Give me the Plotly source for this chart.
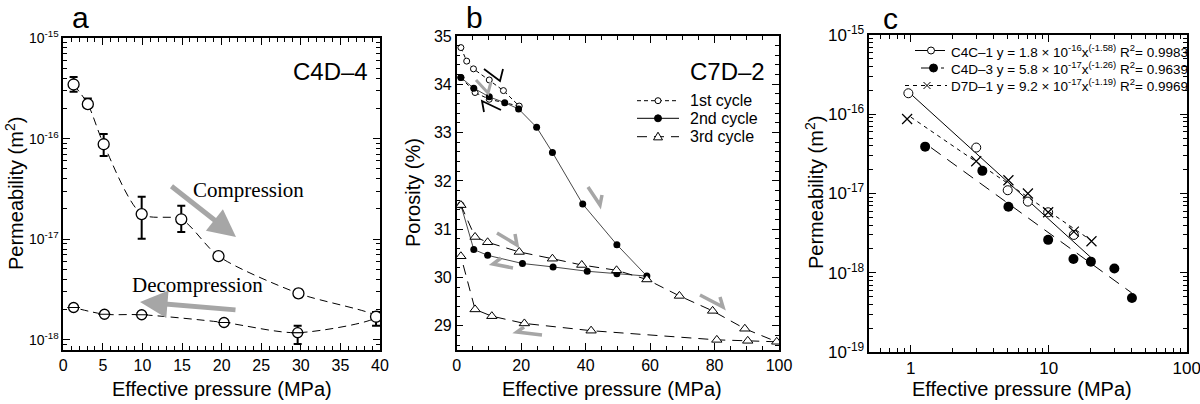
import plotly.graph_objects as go

# ---------------- DATA ----------------
# Panel a (C4D-4): permeability vs effective pressure
comp_p = [1.3, 3.1, 5.1, 9.9, 14.9, 19.6, 29.7, 39.5]
comp_k = [3.45e-16, 2.2e-16, 8.8e-17, 1.78e-17, 1.58e-17, 6.8e-18, 2.9e-18, 1.7e-18]
comp_k_hi = [4.1e-16, 2.5e-16, 1.11e-16, 2.64e-17, 2.16e-17, 7.0e-18, 3.15e-18, 1.9e-18]
comp_k_lo = [2.92e-16, 2.02e-16, 6.73e-17, 1.01e-17, 1.18e-17, 6.6e-18, 2.65e-18, 1.38e-18]
decomp_p = [39.5, 29.6, 20.3, 9.9, 5.2, 1.3]
decomp_k = [1.7e-18, 1.18e-18, 1.49e-18, 1.78e-18, 1.8e-18, 2.1e-18]
decomp_k_hi = [1.9e-18, 1.38e-18, 1.52e-18, 1.81e-18, 1.83e-18, 2.14e-18]
decomp_k_lo = [1.38e-18, 0.91e-18, 1.46e-18, 1.75e-18, 1.77e-18, 2.06e-18]

# Panel b (C7D-2): porosity vs effective pressure, three cycles
first_p = [1.3, 3.1, 5.2, 10.1, 14.5, 19.4, 10.1, 5.7, 1.3]
first_phi = [34.76, 34.48, 34.32, 34.09, 33.87, 33.55, 33.69, 33.83, 34.14]
second_p = [1.3, 5.3, 10.1, 14.9, 19.2, 24.8, 29.7, 39.1, 49.7, 59.0,
            49.7, 40.5, 29.9, 20.4, 9.6, 5.3, 1.3]
second_phi = [34.14, 33.92, 33.74, 33.62, 33.49, 33.11, 32.59, 31.52, 30.68, 30.03,
              30.08, 30.13, 30.22, 30.29, 30.46, 30.58, 31.50]
third_p = [1.3, 5.7, 9.6, 19.4, 29.7, 38.8, 49.6, 59.0, 69.1, 79.4, 89.4, 99.3,
           90.3, 80.7, 41.7, 21.0, 10.9, 5.7, 1.3]
third_phi = [31.50, 30.84, 30.73, 30.53, 30.39, 30.26, 30.15, 29.96, 29.62, 29.31, 28.94, 28.67,
             28.69, 28.71, 28.90, 29.05, 29.20, 29.34, 30.44]
cycle_names = ["1st cycle", "2nd cycle", "3rd cycle"]

# Panel c: permeability vs effective pressure, power-law fits
c4c1_p = [0.96, 2.98, 5.04, 7.06, 9.9, 15.2]
c4c1_k = [1.84e-16, 3.8e-17, 1.1e-17, 7.9e-18, 5.8e-18, 3.0e-18]
c4d3_p = [1.27, 3.3, 5.1, 9.9, 15.1, 20.2, 29.9, 40.1]
c4d3_k = [3.9e-17, 1.93e-17, 6.8e-18, 2.6e-18, 1.49e-18, 1.38e-18, 1.13e-18, 4.8e-19]
d7d1_p = [0.94, 2.98, 5.1, 7.06, 9.9, 15.2, 20.4]
d7d1_k = [8.7e-17, 2.55e-17, 1.47e-17, 1.0e-17, 5.8e-18, 3.3e-18, 2.5e-18]
sample_names = ["C4C\u20131", "C4D\u20133", "D7D\u20131"]
fit_coef = [1.8e-16, 5.8e-17, 9.2e-17]
fit_coef_txt = ["1.8 \u00d7 10<sup>-16</sup>", "5.8 \u00d7 10<sup>-17</sup>", "9.2 \u00d7 10<sup>-17</sup>"]
fit_exp = [-1.58, -1.26, -1.19]
fit_r2 = ["0.9983", "0.9639", "0.9969"]
fit_range = [(0.96, 20.4), (1.4, 40.0), (1.0, 20.4)]

# ---------------- STYLE / LAYOUT ----------------
W, H = 1200, 404
SANS = "Liberation Sans, Arial, sans-serif"
SERIF = "Liberation Serif, Times New Roman, serif"
GRAY = "#a6a6a6"


def px(x):
    return x / W


def py(y):
    return 1 - y / H


fig = go.Figure()


def axis_common(**kw):
    d = dict(showline=True, linecolor="black", linewidth=1.5, mirror="allticks",
             ticks="inside", ticklen=7, tickwidth=1.2, tickcolor="black",
             showgrid=False, zeroline=False, automargin=False, ticklabeloverflow="allow",
             tickfont=dict(family=SANS, size=16, color="black"))
    d.update(kw)
    return d


def log_minor(lo_exp, hi_exp):
    return [m * 10.0 ** e for e in range(lo_exp, hi_exp) for m in range(2, 10)]


# ---- Panel a ----
fig.add_trace(go.Scatter(
    x=comp_p + decomp_p[1:], y=comp_k + decomp_k[1:], mode="lines",
    line=dict(color="black", width=1, dash="8px,5px", shape="spline", smoothing=0.8),
    xaxis="x", yaxis="y", showlegend=False, hoverinfo="skip"))
fig.add_trace(go.Scatter(
    x=comp_p, y=comp_k, mode="markers",
    error_y=dict(type="data", symmetric=False,
                 array=[h - v for h, v in zip(comp_k_hi, comp_k)],
                 arrayminus=[v - l for l, v in zip(comp_k_lo, comp_k)],
                 color="black", thickness=2, width=4),
    marker=dict(symbol="circle", size=11, color="white", line=dict(color="black", width=1.3)),
    xaxis="x", yaxis="y", showlegend=False))
fig.add_trace(go.Scatter(
    x=decomp_p[1:], y=decomp_k[1:], mode="markers",
    error_y=dict(type="data", symmetric=False,
                 array=[h - v for h, v in zip(decomp_k_hi[1:], decomp_k[1:])],
                 arrayminus=[v - l for l, v in zip(decomp_k_lo[1:], decomp_k[1:])],
                 color="black", thickness=2, width=4),
    marker=dict(symbol="circle", size=10, color="white", line=dict(color="black", width=1.3)),
    xaxis="x", yaxis="y", showlegend=False))
fig.add_trace(go.Scatter(
    x=decomp_p[1:], y=decomp_k[1:], mode="markers",
    marker=dict(symbol="line-ew", size=9, line=dict(color="black", width=1.2)),
    xaxis="x", yaxis="y", showlegend=False))

# ---- Panel b ----
b_markers = [dict(symbol="circle", size=6, color="white", line=dict(color="black", width=1)),
             dict(symbol="circle", size=7, color="black"),
             dict(symbol="triangle-up", size=9, color="white", line=dict(color="black", width=1))]
b_lines = [dict(color="black", width=1, dash="4px,3px"),
           dict(color="#333333", width=0.9),
           dict(color="black", width=1, dash="10px,7px")]
for name, xs, ys, mk, ln in zip(cycle_names, [first_p, second_p, third_p],
                                [first_phi, second_phi, third_phi], b_markers, b_lines):
    fig.add_trace(go.Scatter(x=xs, y=ys, mode="lines+markers", name=name, line=ln, marker=mk,
                             xaxis="x2", yaxis="y2", showlegend=False))

# ---- Panel c ----
c_points = [(c4c1_p, c4c1_k), (c4d3_p, c4d3_k), (d7d1_p, d7d1_k)]
c_markers = [dict(symbol="circle", size=9, color="white", line=dict(color="black", width=1)),
             dict(symbol="circle", size=10, color="black"),
             dict(symbol="x-thin", size=10, line=dict(color="black", width=1.2))]
c_dash = ["solid", "12px,8px", "4px,4px"]
for i in range(3):
    x0, x1 = fit_range[i]
    fig.add_trace(go.Scatter(
        x=[x0, x1], y=[fit_coef[i] * x0 ** fit_exp[i], fit_coef[i] * x1 ** fit_exp[i]],
        mode="lines", line=dict(color="black", width=1, dash=c_dash[i]),
        xaxis="x3", yaxis="y3", showlegend=False, hoverinfo="skip"))
    fig.add_trace(go.Scatter(
        x=c_points[i][0], y=c_points[i][1], mode="markers", name=sample_names[i],
        marker=c_markers[i], xaxis="x3", yaxis="y3", showlegend=False))

shapes = []
annotations = []


def note(text, x, y, size, family=SANS, xanchor="center", yanchor="middle", **kw):
    d = dict(x=px(x), y=py(y), xref="paper", yref="paper", text=text, showarrow=False,
             xanchor=xanchor, yanchor=yanchor, font=dict(family=family, size=size, color="black"))
    d.update(kw)
    annotations.append(d)


def glyph(kind, x, y, size, filled):
    """legend glyph drawn as a pixel-sized shape anchored at pixel position (x, y)"""
    r = size / 2
    base = dict(xref="paper", yref="paper", xsizemode="pixel", ysizemode="pixel",
                xanchor=px(x), yanchor=py(y), line=dict(color="black", width=1),
                fillcolor="black" if filled else "white", layer="above")
    if kind == "circle":
        base.update(type="circle", x0=-r, x1=r, y0=-r, y1=r)
    elif kind == "triangle":
        base.update(type="path", path=f"M 0,{r} L {-r},{-r * 0.7} L {r},{-r * 0.7} Z")
    else:
        base.update(type="path", path=f"M {-r},{-r} L {r},{r} M {-r},{r} L {r},{-r}",
                    fillcolor="rgba(0,0,0,0)")
    return base


def hline(x0, x1, y, dash, width=1):
    return dict(type="line", xref="paper", yref="paper", x0=px(x0), x1=px(x1), y0=py(y), y1=py(y),
                line=dict(color="black", width=width, dash=dash), layer="above")


# ---- legends ----
leg_b_rows = [100.7, 118.3, 136.7]
leg_b_glyph = [("circle", 6, False), ("circle", 7, True), ("triangle", 9, False)]
leg_b_dash = ["4px,3px", "solid", "10px,7px"]
leg_c_rows = [50.5, 68, 85.5]
leg_c_x = [(915, 945), (921, 944), (905, 947)]
leg_c_glyph = [("circle", 7, False), ("circle", 8, True), ("x", 7, False)]
for i in range(3):
    shapes.append(hline(637, 679, leg_b_rows[i], leg_b_dash[i]))
    k, s, f = leg_b_glyph[i]
    shapes.append(glyph(k, 658, leg_b_rows[i], s, f))
    note(cycle_names[i], 688, leg_b_rows[i], 16, xanchor="left")
    a, b = leg_c_x[i]
    shapes.append(hline(a, b, leg_c_rows[i], c_dash[i]))
    k, s, f = leg_c_glyph[i]
    shapes.append(glyph(k, (a + b) / 2 + 1, leg_c_rows[i], s, f))
    note(f"{sample_names[i]} y = {fit_coef_txt[i]}x<sup>({fit_exp[i]:.2f})</sup> "
         f"R<sup>2</sup>= {fit_r2[i]}", 949, leg_c_rows[i], 13.5, xanchor="left")

# ---- panel a arrows & texts ----
annotations += [
    dict(x=px(236), y=py(237), xref="paper", yref="paper", ax=-66, ay=-52, showarrow=True,
         arrowhead=2, arrowsize=1.1, arrowwidth=5, arrowcolor=GRAY, text=""),
    dict(x=px(140), y=py(302), xref="paper", yref="paper", ax=97, ay=8, showarrow=True,
         arrowhead=2, arrowsize=1.1, arrowwidth=5, arrowcolor=GRAY, text=""),
]
note("Compression", 248, 190, 21, family=SERIF)
note("Decompression", 197, 285, 21, family=SERIF)
note("C4D\u20134", 370, 72, 24, xanchor="right")
note("C7D\u20132", 767, 72, 24, xanchor="right")

# panel letters
for t, x, y in [("a", 80, 17), ("b", 474, 17), ("c", 890, 18)]:
    note(t, x, y, 30, borderpad=0)

# axis titles
for x in [222, 612, 1022]:
    note("Effective pressure (MPa)", x, 389, 20)
for t, x, y in [("Permeability (m<sup>2</sup>)", 14, 194), ("Porosity (%)", 413, 193),
                ("Permeability (m<sup>2</sup>)", 814, 193)]:
    note(t, x, y, 20, textangle=-90)

# ---- panel b harpoon arrows (tail, tip, barb) in pixel units ----
harpoons = [
    ((476, 80), (488, 93), (491, 82), GRAY, 3),
    ((484, 69), (500, 81), (503, 69), "black", 1.8),
    ((501, 110), (482, 101), (484, 112), "black", 1.8),
    ((588, 187), (600, 205), (602, 195), GRAY, 3.5),
    ((497, 233), (517, 245), (515, 234), GRAY, 3.5),
    ((513, 268), (493, 264), (501, 258), GRAY, 3.5),
    ((700, 295), (723, 307), (720, 297), GRAY, 3.5),
    ((542, 335), (517, 332), (524, 327), GRAY, 3.5),
]
for (t0, t1, t2, col, w) in harpoons:
    path = (f"M {px(t0[0]):.5f},{py(t0[1]):.5f} L {px(t1[0]):.5f},{py(t1[1]):.5f} "
            f"L {px(t2[0]):.5f},{py(t2[1]):.5f}")
    shapes.append(dict(type="path", path=path, xref="paper", yref="paper",
                       line=dict(color=col, width=w), layer="above"))

log_ticks_a = [1e-18, 1e-17, 1e-16, 1e-15]
log_ticks_c = [1e-19, 1e-18, 1e-17, 1e-16, 1e-15]
minor_style = dict(ticks="inside", ticklen=4, tickcolor="black", tickwidth=1)

fig.update_layout(
    width=W, height=H, margin=dict(l=0, r=0, t=0, b=0, pad=0, autoexpand=False),
    paper_bgcolor="white", plot_bgcolor="rgba(0,0,0,0)",
    showlegend=False,
    xaxis=axis_common(domain=[px(63.3), px(380)], range=[0, 40], dtick=5, tick0=0,
                      minor=dict(minor_style, dtick=1), anchor="y"),
    yaxis=axis_common(domain=[py(350), py(38)], type="log", range=[-18.1, -15],
                      tickvals=log_ticks_a,
                      ticktext=["10<sup>-18</sup>", "10<sup>-17</sup>", "10<sup>-16</sup>", "10<sup>-15</sup>"],
                      tickfont=dict(family=SANS, size=14, color="black"),
                      minor=dict(minor_style, tickmode="array", tickvals=log_minor(-19, -15)),
                      anchor="x"),
    xaxis2=axis_common(domain=[px(456.7), px(779)], range=[0, 100], dtick=20, tick0=0,
                       minor=dict(minor_style, dtick=5), anchor="y2"),
    yaxis2=axis_common(domain=[py(350), py(36)], range=[28.5, 35], dtick=1, tick0=29,
                       minor=dict(minor_style, dtick=0.2), anchor="x2"),
    xaxis3=axis_common(domain=[px(869.3), px(1186.7)], type="log", range=[-0.301, 2],
                       tickvals=[1, 10, 100], ticktext=["1", "10", "100"],
                       tickfont=dict(family=SANS, size=17, color="black"),
                       minor=dict(minor_style, tickmode="array", tickvals=log_minor(-1, 2)),
                       anchor="y3"),
    yaxis3=axis_common(domain=[py(352), py(35)], type="log", range=[-19, -15],
                       tickvals=log_ticks_c,
                       ticktext=["10<sup>-19</sup>", "10<sup>-18</sup>", "10<sup>-17</sup>",
                                 "10<sup>-16</sup>", "10<sup>-15</sup>"],
                       tickfont=dict(family=SANS, size=17, color="black"),
                       minor=dict(minor_style, tickmode="array", tickvals=log_minor(-19, -15)),
                       anchor="x3"),
    shapes=shapes,
    annotations=annotations,
)

fig.write_html("out.html", config={"displayModeBar": False},
               post_script="document.body.style.margin='0';")
